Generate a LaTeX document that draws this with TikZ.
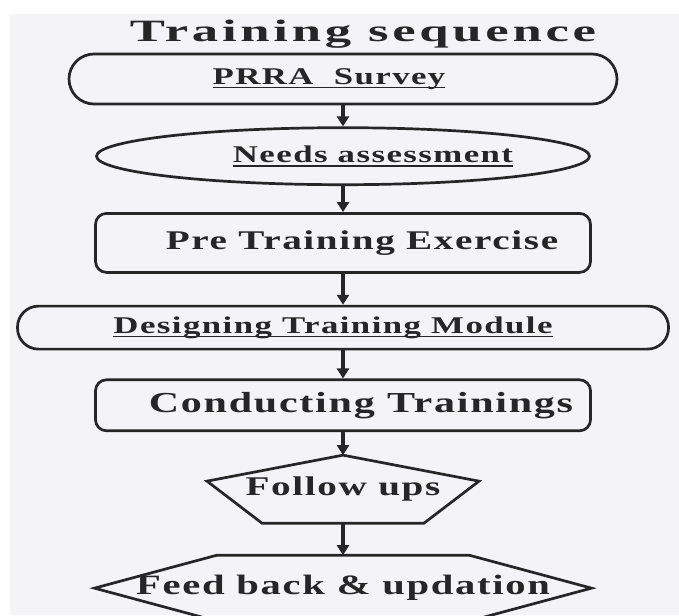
\documentclass[tikz,border=0pt]{standalone}
\usepackage{fontspec}
\setmainfont{Liberation Serif}[FakeStretch=1.45, LetterSpace=6]
\newfontfamily\titlefont{Liberation Serif}[FakeStretch=1.7, LetterSpace=12]
\usetikzlibrary{arrows.meta, positioning, calc, shapes.geometric}

\definecolor{paper}{RGB}{243,243,248}
\definecolor{ink}{RGB}{38,38,38}

% thick rule under a step label
\newcommand{\underlined}[1]{\setbox0=\hbox{#1}\rlap{\rule[-4pt]{\wd0}{1.6pt}}\box0}

\begin{document}
\begin{tikzpicture}[
x=1pt, y=1pt,
node distance=26pt,
font=\bfseries\fontsize{27}{31}\selectfont,
text=ink,
>={Triangle[width=12pt,length=10pt]},
pill/.style={
rectangle, rounded corners=#1,
draw=ink, line width=2.7pt,
inner sep=0pt,
font=\bfseries\fontsize{24}{28}\selectfont
},
oval/.style={
ellipse,
draw=ink, line width=2.7pt,
inner sep=0pt,
font=\bfseries\fontsize{24}{28}\selectfont
},
stepbox/.style={
rectangle, rounded corners=11pt,
draw=ink, line width=2.7pt,
minimum width=495pt,
inner sep=0pt
},
stepframe/.style={rectangle, inner sep=0pt, outer sep=0pt},
nudge/.style={execute at begin node={\hspace*{#1}}},
outline/.style={draw=ink, line width=2.7pt, line join=miter},
arrow/.style={->, draw=ink, line width=3.4pt}
]

% sheet
\fill[white] (0,0) rectangle (679,-615);
\fill[paper] (10,-14) rectangle (679,-615);
\useasboundingbox (0,0) rectangle (679,-615);

\node[font=\titlefont\bfseries\fontsize{31}{36}\selectfont] (title) at (363,-34) {Training sequence};

\node[pill=25pt, minimum width=548pt, minimum height=50pt, nudge=-28pt] (prra) at (343,-79)
{\underlined{PRRA\ \ Survey}};

\node[oval, minimum width=493pt, minimum height=57pt, below=21pt of prra, nudge=60pt] (needs)
{\underlined{Needs assessment}};

\node[stepbox, minimum height=59pt, below=26pt of needs, nudge=38pt] (pretrain)
{Pre Training Exercise};

\node[pill=21pt, minimum width=651pt, minimum height=43pt, below=31pt of pretrain, nudge=-20pt] (design)
{\underlined{Designing Training Module}};

\node[stepbox, minimum height=51pt, below=28pt of design, nudge=36pt,
font=\bfseries\fontsize{29}{33}\selectfont] (conduct)
{Conducting Trainings};

\node[stepframe, minimum width=272pt, minimum height=68pt, below=23pt of conduct] (follow)
{Follow ups};

\node[stepframe, minimum width=497pt, minimum height=66pt, below=32pt of follow,
font=\bfseries\fontsize{28}{32}\selectfont] (feed)
{Feed back \& updation};

% pentagon and hexagon outlines
\draw[outline] (follow.north) -- ($(follow.east)+(0,8)$) -- ($(follow.south)+(81,0)$)
-- ($(follow.south)+(-81,0)$) -- ($(follow.west)+(0,8)$) -- cycle;
\draw[outline] (feed.west) -- ($(feed.north)+(-126,0)$) -- ($(feed.north)+(126,0)$)
-- (feed.east) -- ($(feed.south)+(126,0)$) -- ($(feed.south)+(-126,0)$) -- cycle;

\draw[arrow] (prra) -- (needs);
\draw[arrow] (needs) -- (pretrain);
\draw[arrow] (pretrain) -- (design);
\draw[arrow] (design) -- (conduct);
\draw[arrow] (conduct) -- (follow);
\draw[arrow] (follow) -- (feed);

\end{tikzpicture}
\end{document}
